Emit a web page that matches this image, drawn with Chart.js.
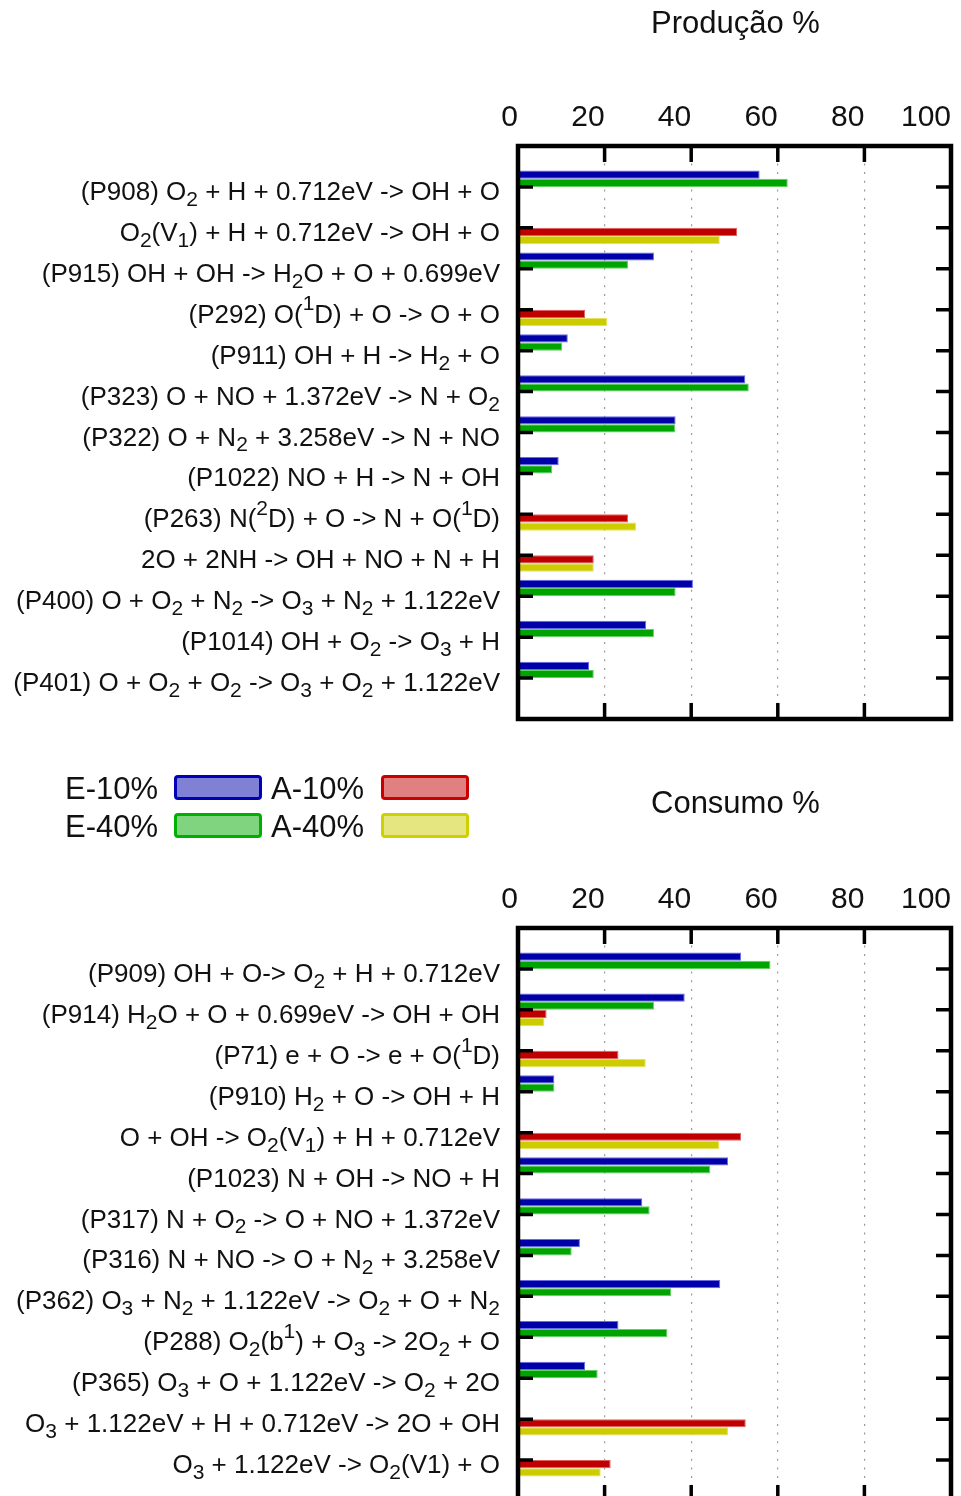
<!DOCTYPE html>
<html>
<head>
<meta charset="utf-8">
<title>Produção % / Consumo %</title>
<script src="https://cdn.jsdelivr.net/npm/chart.js@4/dist/chart.umd.min.js"></script>
<style>
  html, body { margin: 0; padding: 0; background: #fff; }
  body { width: 961px; height: 1496px; overflow: hidden; position: relative;
         font-family: "Liberation Sans", Arial, sans-serif; color: #111; }
  canvas { position: absolute; left: 0; }
  .txt { position: absolute; font-size: 31px; line-height: 30px; white-space: nowrap; }
  .box { position: absolute; width: 82px; height: 19px; border-radius: 4px; border-style: solid; border-width: 3px; box-sizing: content-box; }
</style>
</head>
<body>
<canvas id="prod" width="961" height="740" style="top:0"></canvas>
<canvas id="cons" width="961" height="740" style="top:782px"></canvas>
<div id="legend"></div>
<div class="txt" id="titleProd" style="top:8px"></div>
<div class="txt" id="titleCons" style="top:788px"></div>

<script>
// Reaction labels ("_x" = subscript, "^x" = superscript)
const prodReactions = [
  "(P908) O_2 + H + 0.712eV -> OH + O",
  "O_2(V_1) + H + 0.712eV -> OH + O",
  "(P915) OH + OH -> H_2O + O + 0.699eV",
  "(P292) O(^1D) + O -> O + O",
  "(P911) OH + H -> H_2 + O",
  "(P323) O + NO + 1.372eV -> N + O_2",
  "(P322) O + N_2 + 3.258eV -> N + NO",
  "(P1022) NO + H -> N + OH",
  "(P263) N(^2D) + O -> N + O(^1D)",
  "2O + 2NH -> OH + NO + N + H",
  "(P400) O + O_2 + N_2 -> O_3 + N_2 + 1.122eV",
  "(P1014) OH + O_2 -> O_3 + H",
  "(P401) O + O_2 + O_2 -> O_3 + O_2 + 1.122eV"
];
const consReactions = [
  "(P909) OH + O-> O_2 + H + 0.712eV",
  "(P914) H_2O + O + 0.699eV -> OH + OH",
  "(P71) e + O -> e + O(^1D)",
  "(P910) H_2 + O -> OH + H",
  "O + OH -> O_2(V_1) + H + 0.712eV",
  "(P1023) N + OH -> NO + H",
  "(P317) N + O_2 -> O + NO + 1.372eV",
  "(P316) N + NO -> O + N_2 + 3.258eV",
  "(P362) O_3 + N_2 + 1.122eV -> O_2 + O + N_2",
  "(P288) O_2(b^1) + O_3 -> 2O_2 + O",
  "(P365) O_3 + O + 1.122eV -> O_2 + 2O",
  "O_3 + 1.122eV + H + 0.712eV -> 2O + OH",
  "O_3 + 1.122eV -> O_2(V1) + O"
];

// Series names and colours
const seriesNames = ["E-10%", "E-40%", "A-10%", "A-40%"];
const barColors = ["#0000a8", "#00a400", "#c00000", "#cccc00"];
const barEdges = ["#6a6ae6", "#60d060", "#e06060", "#e2e260"];
const keyFills = ["#8080d4", "#80d480", "#e08080", "#e6e680"];
const keyBorders = ["#0000b8", "#00b000", "#c80000", "#d0d000"];

// Production shares (%)
const prodE10 = [55.8, null, 31.4, null, 11.5, 52.5, 36.4, 9.4, null, null, 40.4, 29.6, 16.4];
const prodE40 = [62.3, null, 25.4, null, 10.2, 53.3, 36.3, 7.9, null, null, 36.4, 31.4, 17.5];
const prodA10 = [null, 50.6, null, 15.5, null, null, null, null, 25.4, 17.5, null, null, null];
const prodA40 = [null, 46.6, null, 20.6, null, null, null, null, 27.3, 17.5, null, null, null];

// Consumption shares (%)
const consE10 = [51.5, 38.5, null, 8.4, null, 48.5, 28.7, 14.3, 46.7, 23.2, 15.5, null, null];
const consE40 = [58.3, 31.4, null, 8.4, null, 44.4, 30.4, 12.4, 35.4, 34.5, 18.4, null, null];
const consA10 = [null, 6.6, 23.2, null, 51.5, null, null, null, null, null, null, 52.6, 21.4];
const consA40 = [null, 6.1, 29.5, null, 46.5, null, null, null, null, null, null, 48.5, 19.1];

const xTickValues = [0, 20, 40, 60, 80, 100];
const titles = ["Produção %", "Consumo %"];

const FONT = '"Liberation Sans", Arial, sans-serif';
const LABEL_SIZE = 26;

function parseRich(s) {
  const parts = [];
  let buf = "";
  for (let i = 0; i < s.length; i++) {
    const c = s[i];
    if ((c === "_" || c === "^") && i + 1 < s.length) {
      if (buf) { parts.push({ t: buf, m: 0 }); buf = ""; }
      parts.push({ t: s[i + 1], m: c === "_" ? 1 : -1 });
      i++;
    } else {
      buf += c;
    }
  }
  if (buf) parts.push({ t: buf, m: 0 });
  return parts;
}

function drawRich(ctx, s, right, baseline) {
  const parts = parseRich(s);
  const big = LABEL_SIZE + "px " + FONT;
  const small = Math.round(LABEL_SIZE * 0.8) + "px " + FONT;
  let total = 0;
  for (const p of parts) {
    ctx.font = p.m ? small : big;
    p.w = ctx.measureText(p.t).width;
    total += p.w;
  }
  let x = right - total;
  for (const p of parts) {
    ctx.font = p.m ? small : big;
    const dy = p.m === 1 ? LABEL_SIZE * 0.23 : p.m === -1 ? -LABEL_SIZE * 0.47 : 0;
    ctx.fillText(p.t, x, baseline + dy);
    x += p.w;
  }
}

// Inward tick marks and heavy frame around the plot area
const framePlugin = {
  id: "frame",
  afterDatasetsDraw(chart) {
    const { ctx, chartArea: a, scales: { x, y } } = chart;
    const n = chart.data.labels.length - 2;
    ctx.save();
    ctx.strokeStyle = "#000";
    ctx.lineCap = "butt";
    ctx.lineWidth = 3.5;
    ctx.beginPath();
    for (const v of xTickValues) {
      const px = x.getPixelForValue(v);
      ctx.moveTo(px, a.top); ctx.lineTo(px, a.top + 16);
      ctx.moveTo(px, a.bottom); ctx.lineTo(px, a.bottom - 16);
    }
    for (let i = 1; i <= n; i++) {
      const py = y.getPixelForValue(i);
      ctx.moveTo(a.left, py); ctx.lineTo(a.left + 15, py);
      ctx.moveTo(a.right, py); ctx.lineTo(a.right - 15, py);
    }
    ctx.stroke();
    ctx.lineWidth = 4.5;
    ctx.strokeRect(a.left, a.top, a.right - a.left, a.bottom - a.top);
    ctx.restore();
  }
};

// Reaction names with sub/superscripts beside each category
const richLabelPlugin = {
  id: "richLabels",
  afterDraw(chart) {
    const { ctx, chartArea: a, scales: { y } } = chart;
    const labels = chart.data.labels;
    ctx.save();
    ctx.fillStyle = "#111";
    ctx.textBaseline = "alphabetic";
    ctx.textAlign = "left";
    for (let i = 1; i < labels.length - 1; i++) {
      drawRich(ctx, labels[i], a.left - 18, y.getPixelForValue(i) + 13);
    }
    ctx.restore();
  }
};

function pad(arr) { return [null, ...arr, null]; }

function makeChart(id, reactions, series) {
  return new Chart(document.getElementById(id), {
    type: "bar",
    data: {
      labels: ["", ...reactions, ""],
      datasets: series.map((vals, k) => ({
        label: seriesNames[k],
        data: pad(vals),
        backgroundColor: barColors[k],
        borderColor: barEdges[k],
        borderWidth: 1,
        categoryPercentage: 0.8,
        barPercentage: 1.0
      }))
    },
    options: {
      indexAxis: "y",
      responsive: false,
      animation: false,
      layout: { padding: { left: 0, right: 7, top: 0, bottom: 21 } },
      plugins: { legend: { display: false }, tooltip: { enabled: false }, title: { display: false } },
      scales: {
        x: {
          position: "top",
          min: 0, max: 100,
          afterBuildTicks: s => { s.ticks = xTickValues.map(v => ({ value: v })); },
          ticks: { align: "end", padding: 10, color: "#111", font: { family: FONT, size: 30 } },
          grid: { color: "#9a9a9a", lineWidth: 1.2, drawTicks: false },
          border: { display: false, dash: [2, 6.7] },
          afterFit: s => { s.height = 146; }
        },
        y: {
          type: "category",
          offset: false,
          ticks: { display: false },
          grid: { display: false },
          border: { display: false },
          afterFit: s => { s.width = 518; }
        }
      }
    },
    plugins: [framePlugin, richLabelPlugin]
  });
}

makeChart("prod", prodReactions, [prodE10, prodE40, prodA10, prodA40]);
makeChart("cons", consReactions, [consE10, consE40, consA10, consA40]);

// Titles centred over the plot area
function placeTitle(id, text) {
  const el = document.getElementById(id);
  el.textContent = text;
  el.style.left = (735.5 - el.offsetWidth / 2) + "px";
}
placeTitle("titleProd", titles[0]);
placeTitle("titleCons", titles[1]);

// Two-column key: name to the left of each swatch
const legend = document.getElementById("legend");
const keyCols = [{ textRight: 158, boxLeft: 174 }, { textRight: 364, boxLeft: 381 }];
const keyRows = [774, 812];
seriesNames.forEach((name, k) => {
  const col = keyCols[Math.floor(k / 2)];
  const rowTop = keyRows[k % 2];
  const t = document.createElement("div");
  t.className = "txt";
  t.textContent = name;
  t.style.top = (rowTop + 0) + "px";
  legend.appendChild(t);
  t.style.left = (col.textRight - t.offsetWidth) + "px";
  const b = document.createElement("div");
  b.className = "box";
  b.style.left = col.boxLeft + "px";
  b.style.top = (rowTop + 1) + "px";
  b.style.background = keyFills[k];
  b.style.borderColor = keyBorders[k];
  legend.appendChild(b);
});
</script>
</body>
</html>
